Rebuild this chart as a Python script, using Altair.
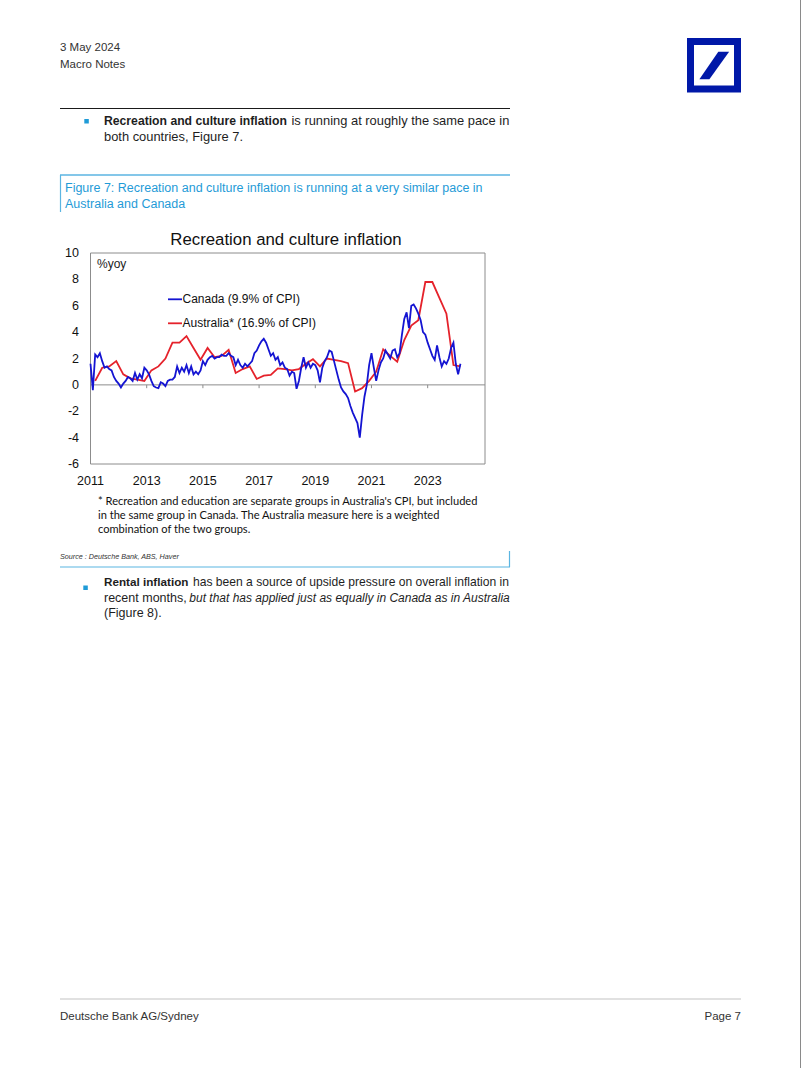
import altair as alt
import pandas as pd

# ---------------- data ----------------
# Canada recreation & culture CPI, %yoy, monthly from Jan 2011
canada = [
    1.6, -0.4, 2.3, 2.1, 2.4, 1.8, 1.3, 1.4, 1.2, 1.1, 0.6, 0.3,      # 2011
    0.1, -0.2, 0.1, 0.3, 0.6, 0.5, 0.3, 0.9, 0.4, 0.8, 0.5, 1.3,      # 2012
    1.1, 0.8, 0.3, -0.1, -0.2, -0.25, 0.2, 0.1, -0.1, 0.3, 0.4, 0.4,  # 2013
    0.6, 1.4, 0.9, 1.3, 1.0, 1.5, 0.9, 1.4, 0.8, 1.0, 0.8, 1.1,       # 2014
    1.8, 1.5, 1.9, 2.1, 2.2, 2.0, 2.1, 2.1, 2.3, 2.2, 2.2, 2.4,       # 2015
    2.2, 2.1, 1.5, 1.9, 1.5, 1.3, 1.6, 1.4, 1.6, 1.8, 2.4, 2.6,       # 2016
    3.0, 3.3, 3.5, 3.2, 2.7, 2.2, 2.4, 1.9, 2.1, 1.5, 1.7, 1.3,       # 2017
    1.2, 0.7, 1.0, 0.9, -0.3, 0.3, 1.3, 2.1, 1.3, 1.7, 1.3, 1.6,      # 2018
    1.5, 1.1, 0.2, 1.3, 1.8, 2.1, 2.6, 2.5, 1.8, 1.1, 0.4, -0.2,      # 2019
    -0.5, -0.7, -1.0, -1.6, -2.1, -2.5, -2.9, -4.0, -2.3, -0.9, 0.0, 1.5,  # 2020
    2.4, 1.3, 0.3, 1.1, 1.7, 2.0, 2.6, 2.3, 2.0, 2.6, 2.7, 2.1,       # 2021
    2.4, 3.8, 5.0, 5.5, 4.3, 6.0, 6.1, 5.8, 5.4, 4.9, 4.0, 3.8,       # 2022
    3.2, 2.7, 2.2, 1.9, 3.0, 2.1, 1.4, 1.8, 1.6, 2.0, 2.8, 3.2,       # 2023
    1.6, 0.8, 1.6,                                                    # 2024
]
# Australia recreation & education (weighted), %yoy, quarterly from Q1 2011
australia = [
    0.3, 1.3, 1.4, 1.8, 0.8, 0.5, 0.4, 0.3, 1.1, 1.4, 2.0, 3.2,
    3.2, 3.7, 2.8, 1.9, 2.8, 2.1, 2.2, 2.65, 0.9, 1.2, 1.4, 0.45,
    0.7, 0.75, 1.25, 1.2, 1.1, 1.2, 1.6, 1.95, 1.4, 2.0, 1.9, 1.8,
    1.65, -0.5, -0.25, 0.3, 1.0, 2.7, 2.2, 1.75, 3.4, 4.5, 4.9, 7.8,
    7.8, 6.6, 5.4, 1.5, 1.4,
]
x_tick_years = [2011, 2013, 2015, 2017, 2019, 2021, 2023]
y_tick_values = [10, 8, 6, 4, 2, 0, -2, -4, -6]

can_df = pd.DataFrame({"t": [2011 + i / 12 for i in range(len(canada))], "v": canada})
aus_df = pd.DataFrame({"t": [2011 + (2 + 3 * i) / 12 for i in range(len(australia))], "v": australia})
xlab_df = pd.DataFrame({"t": x_tick_years, "lab": [str(y) for y in x_tick_years]})
ylab_df = pd.DataFrame({"v": y_tick_values, "lab": [str(v) for v in y_tick_values]})
tick_df = pd.DataFrame({"t": x_tick_years[1:], "a": [0.0] * 6, "b": [-0.25] * 6})
zero_df = pd.DataFrame({"v": [0.0]})
one = pd.DataFrame({"k": [0]})

# ---------------- styling ----------------
BODY = "Liberation Sans"
CHART_FONT = "Liberation Sans"
NOTE_FONT = "Lato"
TXT = "#1e1e1e"
CAP_BLUE = "#1f9bd7"
DB_BLUE = "#0018a8"
CAN_BLUE = "#1414d2"
AUS_RED = "#e5222b"

xs = alt.Scale(domain=[2011, 2025.04], range=[90.5, 485], nice=False, zero=False)
ys = alt.Scale(domain=[-6, 10], range=[464, 253], nice=False, zero=False)


def label(s, x, y, size=12.5, weight="normal", style="normal", color=TXT,
          align="left", font=BODY):
    return alt.Chart(one).mark_text(
        text=s, align=align, baseline="alphabetic", fontSize=size,
        fontWeight=weight, fontStyle=style, color=color, font=font
    ).encode(x=alt.value(x), y=alt.value(y))


def hline(x1, x2, y, color, w=1.0):
    return alt.Chart(one).mark_rule(color=color, strokeWidth=w).encode(
        x=alt.value(x1), x2=alt.value(x2), y=alt.value(y))


def vline(x, y1, y2, color, w=1.0):
    return alt.Chart(one).mark_rule(color=color, strokeWidth=w).encode(
        x=alt.value(x), y=alt.value(y1), y2=alt.value(y2))


def box(x1, x2, y1, y2, fill):
    return alt.Chart(one).mark_rect(fill=fill).encode(
        x=alt.value(x1), x2=alt.value(x2), y=alt.value(y1), y2=alt.value(y2))


layers = []

# page border (right edge)
layers.append(vline(800.5, 0, 1068, "#8a8a8a"))

# header
layers.append(label("3 May 2024", 60, 50.5, size=11.5, color="#333333"))
layers.append(label("Macro Notes", 60, 68, size=11.5, color="#333333"))

# Deutsche Bank logo
layers.append(alt.Chart(one).mark_rect(fillOpacity=0, stroke=DB_BLUE, strokeWidth=7).encode(
    x=alt.value(690.5), x2=alt.value(737.5), y=alt.value(41.5), y2=alt.value(89)))
layers.append(alt.Chart(one).mark_point(
    shape="M -0.54 0.51 L -0.17 0.51 L 0.56 -0.51 L 0.16 -0.51 Z",
    size=2916, filled=True, fill=DB_BLUE, opacity=1, strokeWidth=0
).encode(x=alt.value(714), y=alt.value(65.5)))

# top rule and first bullet
layers.append(hline(60, 510, 108.5, "#1a1a1a", 1))
layers.append(box(84.3, 88.8, 119, 123.5, CAP_BLUE))
layers.append(label("Recreation and culture inflation", 104, 125, size=12.2, weight="bold"))
layers.append(label("is running at roughly the same pace in", 291.5, 125, size=12.9))
layers.append(label("both countries, Figure 7.", 104, 140.5, size=12.9))

# figure caption box
layers.append(hline(60, 510, 175, "#5bb5e2", 1.5))
layers.append(vline(60.5, 175, 212, "#5bb5e2", 1.2))
layers.append(label("Figure 7: Recreation and culture inflation is running at a very similar pace in",
                    65, 191.5, size=12.5, color=CAP_BLUE))
layers.append(label("Australia and Canada", 65, 208, size=12.5, color=CAP_BLUE))

# ---------------- chart ----------------
layers.append(label("Recreation and culture inflation", 286, 245, size=16.8,
                    align="center", font=CHART_FONT, color="#111111"))
# plot frame
layers.append(alt.Chart(one).mark_rect(fillOpacity=0, stroke="#8c8c8c", strokeWidth=1).encode(
    x=alt.value(90.5), x2=alt.value(485), y=alt.value(253), y2=alt.value(464)))
# zero line and ticks
layers.append(alt.Chart(zero_df).mark_rule(color="#8c8c8c", strokeWidth=1).encode(
    y=alt.Y("v:Q", scale=ys, axis=None), x=alt.value(90.5), x2=alt.value(485)))
layers.append(alt.Chart(tick_df).mark_rule(color="#8c8c8c", strokeWidth=1).encode(
    x=alt.X("t:Q", scale=xs, axis=None),
    y=alt.Y("a:Q", scale=ys, axis=None), y2="b:Q"))
# axis labels
layers.append(alt.Chart(ylab_df).mark_text(
    align="right", baseline="middle", fontSize=12.5, font=CHART_FONT, color="#111111"
).encode(y=alt.Y("v:Q", scale=ys, axis=None), x=alt.value(79), text="lab:N"))
layers.append(alt.Chart(xlab_df).mark_text(
    align="center", baseline="alphabetic", fontSize=12.5, font=CHART_FONT, color="#111111"
).encode(x=alt.X("t:Q", scale=xs, axis=None), y=alt.value(485), text="lab:N"))

# series
layers.append(alt.Chart(aus_df).mark_line(color=AUS_RED, strokeWidth=1.8).encode(
    x=alt.X("t:Q", scale=xs, axis=None), y=alt.Y("v:Q", scale=ys, axis=None)))
layers.append(alt.Chart(can_df).mark_line(color=CAN_BLUE, strokeWidth=1.8).encode(
    x=alt.X("t:Q", scale=xs, axis=None), y=alt.Y("v:Q", scale=ys, axis=None)))

# in-plot texts and legend
layers.append(label("%yoy", 97, 268, size=12, font=CHART_FONT, color="#222222"))
layers.append(hline(168, 182, 299.3, CAN_BLUE, 1.8))
layers.append(label("Canada (9.9% of CPI)", 182.5, 303, size=12, font=CHART_FONT, color="#111111"))
layers.append(hline(168, 182, 323.3, AUS_RED, 1.8))
layers.append(label("Australia* (16.9% of CPI)", 182.5, 327, size=12, font=CHART_FONT, color="#111111"))

# footnote under chart
layers.append(label("* Recreation and education are separate groups in Australia's CPI, but included",
                    98, 504.5, size=11.1, font=NOTE_FONT, color="#111111"))
layers.append(label("in the same group in Canada. The Australia measure here is a weighted",
                    98, 518.5, size=11.1, font=NOTE_FONT, color="#111111"))
layers.append(label("combination of the two groups.",
                    98, 532.5, size=11.1, font=NOTE_FONT, color="#111111"))

# source box
layers.append(label("Source : Deutsche Bank, ABS, Haver", 60, 559, size=7.2, style="italic",
                    color="#333333"))
layers.append(hline(60, 510, 567, "#5bb5e2", 1.2))
layers.append(vline(509.5, 551, 567, "#5bb5e2", 1.2))

# second bullet
layers.append(box(83.3, 87.8, 585.5, 590, CAP_BLUE))
layers.append(label("Rental inflation", 104, 586, size=11.7, weight="bold"))
layers.append(label("has been a source of upside pressure on overall inflation in", 193, 586, size=12.1))
layers.append(label("recent months,", 104, 601.5, size=12.5))
layers.append(label("but that has applied just as equally in Canada as in Australia", 189.3, 601.5,
                    size=12.0, style="italic"))
layers.append(label("(Figure 8).", 104, 617, size=12.5))

# footer
layers.append(hline(60, 741, 999, "#c4c4c4", 1.2))
layers.append(label("Deutsche Bank AG/Sydney", 60, 1020, size=11.5, color="#333333"))
layers.append(label("Page 7", 741, 1020, size=11.5, color="#333333", align="right"))

chart = alt.layer(*layers).properties(
    width=802, height=1068,
    autosize=alt.AutoSizeParams(type="none"),
    padding=0,
    background="white",
).configure_view(stroke=None)

chart.save("out.html", embed_options={"renderer": "svg", "actions": False})
